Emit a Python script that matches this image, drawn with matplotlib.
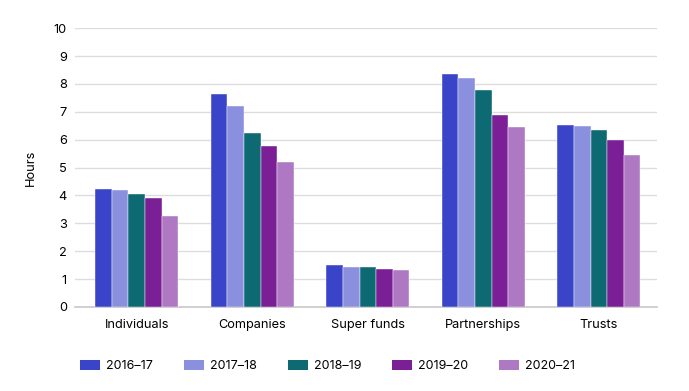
import numpy as np
import matplotlib.pyplot as plt
from matplotlib.patches import Patch

plt.rcParams['font.family'] = ['Inter', 'DejaVu Sans']

# ── Data ─────────────────────────────────────────────────────────────────────
categories = ['Individuals', 'Companies', 'Super funds', 'Partnerships', 'Trusts']
years = ['2016–17', '2017–18', '2018–19', '2019–20', '2020–21']
hours_2016 = [4.24, 7.63, 1.52, 8.36, 6.52]
hours_2017 = [4.19, 7.21, 1.45, 8.22, 6.50]
hours_2018 = [4.06, 6.25, 1.44, 7.78, 6.33]
hours_2019 = [3.91, 5.79, 1.37, 6.88, 5.98]
hours_2020 = [3.27, 5.19, 1.34, 6.45, 5.45]
series = [hours_2016, hours_2017, hours_2018, hours_2019, hours_2020]
colors = ['#3944c9', '#8a90de', '#0e6a72', '#7a1f96', '#ae78c2']

fig = plt.figure(figsize=(6.89, 3.91), dpi=100)
ax = fig.add_axes([0.109, 0.215, 0.844, 0.713])

x = np.arange(len(categories))
bw = 0.144
for i, (vals, col) in enumerate(zip(series, colors)):
    ax.bar(x + (i - 2) * bw, vals, width=bw, color=col, zorder=3,
           edgecolor='white', linewidth=0.3)

ax.set_ylim(0, 10)
ax.set_xlim(-0.534, 4.5)
ax.set_yticks(range(0, 11))
ax.set_xticks(x)
ax.set_xticklabels(categories, fontsize=9.2)
ax.tick_params(axis='y', labelsize=9.2, length=0, pad=6)
ax.tick_params(axis='x', length=0, pad=9)
ax.yaxis.grid(True, color='#dddddd', linewidth=1, zorder=0)
for s in ['top', 'right', 'left']:
    ax.spines[s].set_visible(False)
ax.spines['bottom'].set_color('#c8c8c8')
ax.spines['bottom'].set_linewidth(1.2)
ax.set_ylabel('Hours', fontsize=9.2, labelpad=12)

handles = [Patch(facecolor=c, label=y) for c, y in zip(colors, years)]
fig.legend(handles=handles, loc='center left',
           bbox_to_anchor=(80 / 689, 1 - 366 / 391), ncol=5,
           frameon=False, fontsize=9, borderpad=0, borderaxespad=0,
           handlelength=1.6, handleheight=0.95,
           columnspacing=2.45, handletextpad=0.5)

fig.savefig('out.png', dpi=100, facecolor='white')
